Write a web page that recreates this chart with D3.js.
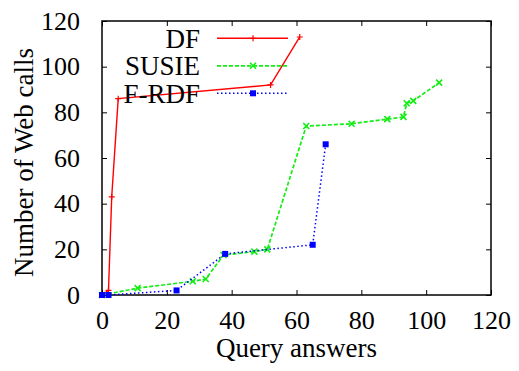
<!DOCTYPE html>
<html>
<head>
<meta charset="utf-8">
<script src="https://cdn.jsdelivr.net/npm/d3@7"></script>
<style>
  body { margin: 0; background: #fff; }
</style>
</head>
<body>
<div id="chart"></div>
<script>
// series values
const seriesNames = ['DF', 'SUSIE', 'F-RDF'];
const dfX = [0, 2, 3, 5, 52, 61];
const dfY = [0, 2, 43, 86, 92, 113];
const susieX = [0, 11, 28, 32, 37.5, 47, 51, 63, 77, 88, 93, 94, 96, 104];
const susieY = [0, 3, 6, 7, 17.5, 19, 20, 74, 75, 77, 78, 84, 85, 93];
const frdfX = [0, 2, 23, 38, 65, 69];
const frdfY = [0, 0, 2, 18, 22, 66];
const xTicks = [0, 20, 40, 60, 80, 100, 120];
const yTicks = [0, 20, 40, 60, 80, 100, 120];

const FONT = "'Liberation Serif', 'Times New Roman', serif";
const width = 519, height = 371;
const margin = { top: 21, right: 28, bottom: 76, left: 102 };
const iw = width - margin.left - margin.right;
const ih = height - margin.top - margin.bottom;

const svg = d3.select('#chart').append('svg')
    .attr('width', width)
    .attr('height', height);

const chart = svg.append('g')
    .attr('transform', `translate(${margin.left}, ${margin.top})`);

const x = d3.scaleLinear().domain([0, 120]).range([0, iw]);
const y = d3.scaleLinear().domain([0, 120]).range([ih, 0]);

// axis helper: gnuplot style, ticks point inward, no domain path
function styleAxis(g) {
    g.select('.domain').remove();
    g.attr('font-family', FONT).attr('font-size', 26);
    g.selectAll('.tick line').attr('stroke', '#000');
    g.selectAll('.tick text')
        .style('font-family', FONT)
        .style('font-size', '26px')
        .attr('fill', '#000');
}

const tick = 5;
chart.append('g')
    .attr('transform', `translate(0, ${ih})`)
    .call(d3.axisBottom(x).tickValues(xTicks).tickSize(-tick).tickPadding(16))
    .call(styleAxis);
chart.append('g')
    .call(d3.axisTop(x).tickValues(xTicks).tickSize(-tick).tickFormat(''))
    .call(styleAxis);
chart.append('g')
    .call(d3.axisLeft(y).tickValues(yTicks).tickSize(-tick).tickPadding(22))
    .call(styleAxis);
chart.append('g')
    .attr('transform', `translate(${iw}, 0)`)
    .call(d3.axisRight(y).tickValues(yTicks).tickSize(-tick).tickFormat(''))
    .call(styleAxis);

chart.append('rect')
    .attr('width', iw)
    .attr('height', ih)
    .attr('fill', 'none')
    .attr('stroke', '#000')
    .attr('stroke-width', 1.5);

const series = [
    { name: seriesNames[0], xs: dfX, ys: dfY, color: '#ff0000', dash: null, marker: 'plus', w: 1.4 },
    { name: seriesNames[1], xs: susieX, ys: susieY, color: '#11ee11', dash: '4,2', marker: 'cross', w: 1.7 },
    { name: seriesNames[2], xs: frdfX, ys: frdfY, color: '#0000ff', dash: '1.5,2.5', marker: 'square', w: 1.5 }
];

function drawMarker(g, type, cx, cy, color) {
    if (type === 'plus') {
        g.append('path')
            .attr('d', `M${cx - 3},${cy}H${cx + 3}M${cx},${cy - 3}V${cy + 3}`)
            .attr('stroke', color).attr('stroke-width', 1.2);
    } else if (type === 'cross') {
        g.append('path')
            .attr('d', `M${cx - 3},${cy - 3}L${cx + 3},${cy + 3}M${cx - 3},${cy + 3}L${cx + 3},${cy - 3}`)
            .attr('stroke', color).attr('stroke-width', 1.6);
    } else {
        g.append('rect')
            .attr('x', cx - 3).attr('y', cy - 3)
            .attr('width', 6).attr('height', 6)
            .attr('fill', color);
    }
}

const line = d3.line().x(d => x(d[0])).y(d => y(d[1]));

series.forEach(s => {
    const pts = s.xs.map((v, i) => [v, s.ys[i]]);
    const g = chart.append('g');
    g.append('path')
        .datum(pts)
        .attr('d', line)
        .attr('fill', 'none')
        .attr('stroke', s.color)
        .attr('stroke-width', s.w)
        .attr('stroke-dasharray', s.dash);
    pts.forEach(p => drawMarker(g, s.marker, x(p[0]), y(p[1]), s.color));
});

// legend
const legend = svg.append('g');
series.forEach((s, i) => {
    const ly = 38.3 + i * 27.5;
    legend.append('text')
        .attr('x', 200)
        .attr('y', ly + 9.5)
        .attr('text-anchor', 'end')
        .style('font-family', FONT)
        .style('font-size', '27px')
        .text(s.name);
    legend.append('line')
        .attr('x1', 217).attr('x2', 288)
        .attr('y1', ly).attr('y2', ly)
        .attr('stroke', s.color)
        .attr('stroke-width', s.w)
        .attr('stroke-dasharray', s.dash);
    drawMarker(legend, s.marker, 253, ly, s.color);
});

// axis titles
svg.append('text')
    .attr('x', margin.left + iw / 2)
    .attr('y', 357)
    .attr('text-anchor', 'middle')
    .style('font-family', FONT)
    .style('font-size', '27px')
    .text('Query answers');

svg.append('text')
    .attr('transform', 'translate(33, 162.5) rotate(-90)')
    .attr('text-anchor', 'middle')
    .style('font-family', FONT)
    .style('font-size', '27px')
    .text('Number of Web calls');
</script>
</body>
</html>
